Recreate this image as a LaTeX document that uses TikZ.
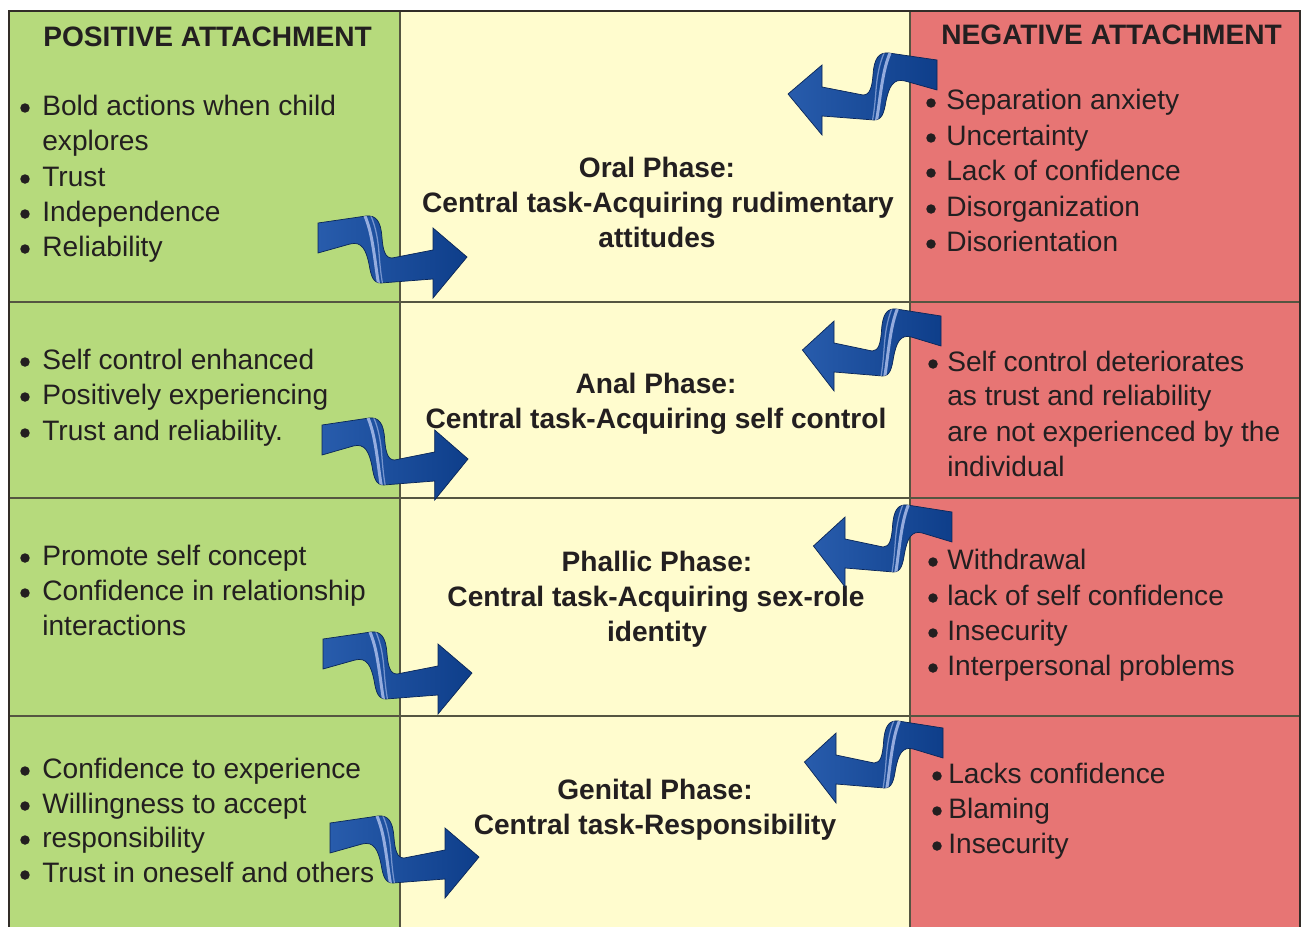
\documentclass[tikz,border=0pt]{standalone}
\usepackage{fontspec}
\setmainfont{Liberation Sans}
\definecolor{posgreen}{RGB}{182,218,124}
\definecolor{midyellow}{RGB}{255,252,206}
\definecolor{negred}{RGB}{231,117,116}
\definecolor{txt}{RGB}{35,31,32}
\definecolor{gridline}{RGB}{85,85,65}
\definecolor{framec}{RGB}{50,45,40}
\definecolor{rbA}{RGB}{40,92,172}
\definecolor{rbB}{RGB}{14,62,138}
\definecolor{rbEdge}{RGB}{10,38,88}
\definecolor{rbHi}{RGB}{190,205,245}
\def\ribbonoutline{(0,-15) -- (0,15) -- (32,6) .. controls (44,3) and (48,12) .. (51,26) .. controls (53,38) and (55,45) .. (63,45) -- (115,41) -- (115,60) -- (149,19) -- (115,-10) -- (115,12) -- (74,20) .. controls (67,20) and (65,12) .. (64,0) .. controls (63,-17) and (58,-23) .. (48,-22) -- cycle}
\tikzset{
  ribbon/.pic={
    \shadedraw[left color=rbA, right color=rbB, draw=rbEdge, line width=0.4pt] \ribbonoutline;
    \begin{scope}
      \clip \ribbonoutline;
      \draw[rbHi, line width=0.06cm, opacity=0.75] (47,-22) .. controls (52,-10) and (54,2) .. (56,15) .. controls (58,28) and (59,38) .. (61,48);
      \draw[rbHi, line width=0.025cm, opacity=0.55] (53,-22) .. controls (58,-10) and (60,2) .. (61,15) .. controls (62,28) and (63,38) .. (65,48);
    \end{scope}
  },
  bodytxt/.style={inner sep=0pt, anchor=base west, text=txt, font=\fontsize{16}{20}\selectfont},
  bul/.style={circle, fill=txt, inner sep=0pt, minimum size=0.19cm},
  headtxt/.style={inner sep=0pt, anchor=base west, text=txt, font=\fontsize{16}{20}\selectfont\bfseries},
  phasetxt/.style={inner sep=0pt, anchor=base, text=txt, font=\fontsize{16}{20}\selectfont\bfseries},
  cellline/.style={draw=gridline, line width=0.6pt},
  frameline/.style={draw=framec, line width=0.9pt}
}
\begin{document}
\begin{tikzpicture}[x=0.02cm, y=-0.02cm]
\useasboundingbox (0,0) rectangle (1304,926);
\clip (0,0) rectangle (1304,926);
% columns
\fill[posgreen] (9,11) rectangle (400,930);
\fill[midyellow] (400,11) rectangle (910,930);
\fill[negred] (910,11) rectangle (1300,930);
% grid
\path[cellline] (9,302) -- (1300,302);
\path[cellline] (9,498) -- (1300,498);
\path[cellline] (9,716) -- (1300,716);
\path[cellline] (400,11) -- (400,930);
\path[cellline] (910,11) -- (910,930);
\path[frameline] (9,930) -- (9,11) -- (1300,11) -- (1300,930);

% headers
\node[headtxt] (posH) at (43,47) {POSITIVE ATTACHMENT};
\node[headtxt] (negH) at (941,45) {NEGATIVE ATTACHMENT};

% ---- Row 1
\node[bul] (l1b1) at (25,108) {};
\node[bodytxt] (l1t1) at (42,115) {Bold actions when child};
\node[bodytxt] (l1t2) at (42,150) {explores};
\node[bul] (l1b3) at (25,179) {};
\node[bodytxt] (l1t3) at (42,186) {Trust};
\node[bul] (l1b4) at (25,214) {};
\node[bodytxt] (l1t4) at (42,221) {Independence};
\node[bul] (l1b5) at (25,249) {};
\node[bodytxt] (l1t5) at (42,256) {Reliability};

\node[phasetxt] (c1a) at (657,177) {Oral Phase:};
\node[phasetxt] (c1b) at (658,212) {Central task-Acquiring rudimentary};
\node[phasetxt] (c1c) at (657,247) {attitudes};

\node[bul] (r1b1) at (931,103) {};
\node[bodytxt] (r1t1) at (946,110) {Separation anxiety};
\node[bul] (r1b2) at (931,138) {};
\node[bodytxt] (r1t2) at (946,145) {Uncertainty};
\node[bul] (r1b3) at (931,173) {};
\node[bodytxt] (r1t3) at (946,180) {Lack of confidence};
\node[bul] (r1b4) at (931,209) {};
\node[bodytxt] (r1t4) at (946,216) {Disorganization};
\node[bul] (r1b5) at (931,244) {};
\node[bodytxt] (r1t5) at (946,251) {Disorientation};

% ---- Row 2
\node[bul] (l2b1) at (25,362) {};
\node[bodytxt] (l2t1) at (42,369) {Self control enhanced};
\node[bul] (l2b2) at (25,397) {};
\node[bodytxt] (l2t2) at (42,404) {Positively experiencing};
\node[bul] (l2b3) at (25,433) {};
\node[bodytxt] (l2t3) at (42,440) {Trust and reliability.};

\node[phasetxt] (c2a) at (656,393) {Anal Phase:};
\node[phasetxt] (c2b) at (656,428) {Central task-Acquiring self control};

\node[bul] (r2b1) at (933,364) {};
\node[bodytxt] (r2t1) at (947,371) {Self control deteriorates};
\node[bodytxt] (r2t2) at (947,405) {as trust and reliability};
\node[bodytxt] (r2t3) at (947,441) {are not experienced by the};
\node[bodytxt] (r2t4) at (947,476) {individual};

% ---- Row 3
\node[bul] (l3b1) at (25,558) {};
\node[bodytxt] (l3t1) at (42,565) {Promote self concept};
\node[bul] (l3b2) at (25,593) {};
\node[bodytxt] (l3t2) at (42,600) {Confidence in relationship};
\node[bodytxt] (l3t3) at (42,635) {interactions};

\node[phasetxt] (c3a) at (657,571) {Phallic Phase:};
\node[phasetxt] (c3b) at (656,606) {Central task-Acquiring sex-role};
\node[phasetxt] (c3c) at (657,641) {identity};

\node[bul] (r3b1) at (933,562) {};
\node[bodytxt] (r3t1) at (947,569) {Withdrawal};
\node[bul] (r3b2) at (933,598) {};
\node[bodytxt] (r3t2) at (947,605) {lack of self confidence};
\node[bul] (r3b3) at (933,633) {};
\node[bodytxt] (r3t3) at (947,640) {Insecurity};
\node[bul] (r3b4) at (933,668) {};
\node[bodytxt] (r3t4) at (947,675) {Interpersonal problems};

% ---- Row 4
\node[bul] (l4b1) at (25,771) {};
\node[bodytxt] (l4t1) at (42,778) {Confidence to experience};
\node[bul] (l4b2) at (25,806) {};
\node[bodytxt] (l4t2) at (42,813) {Willingness to accept};
\node[bul] (l4b3) at (25,840) {};
\node[bodytxt] (l4t3) at (42,847) {responsibility};
\node[bul] (l4b4) at (25,875) {};
\node[bodytxt] (l4t4) at (42,882) {Trust in oneself and others};

\node[phasetxt] (c4a) at (655,799) {Genital Phase:};
\node[phasetxt] (c4b) at (655,834) {Central task-Responsibility};

\node[bul] (r4b1) at (937,776) {};
\node[bodytxt] (r4t1) at (948,783) {Lacks confidence};
\node[bul] (r4b2) at (937,811) {};
\node[bodytxt] (r4t2) at (948,818) {Blaming};
\node[bul] (r4b3) at (937,846) {};
\node[bodytxt] (r4t3) at (948,853) {Insecurity};

% ---- ribbon arrows
\pic (arR1) at (318,238) {ribbon};
\pic[xscale=-1] (arL1) at (937,75) {ribbon};
\pic[xscale=0.98] (arR2) at (322,440) {ribbon};
\pic[xscale=-0.93] (arL2) at (941,331) {ribbon};
\pic (arR3) at (323,654) {ribbon};
\pic[xscale=-0.93] (arL3) at (952,527) {ribbon};
\pic (arR4) at (330,838) {ribbon};
\pic[xscale=-0.93] (arL4) at (943,743) {ribbon};
\end{tikzpicture}
\end{document}
